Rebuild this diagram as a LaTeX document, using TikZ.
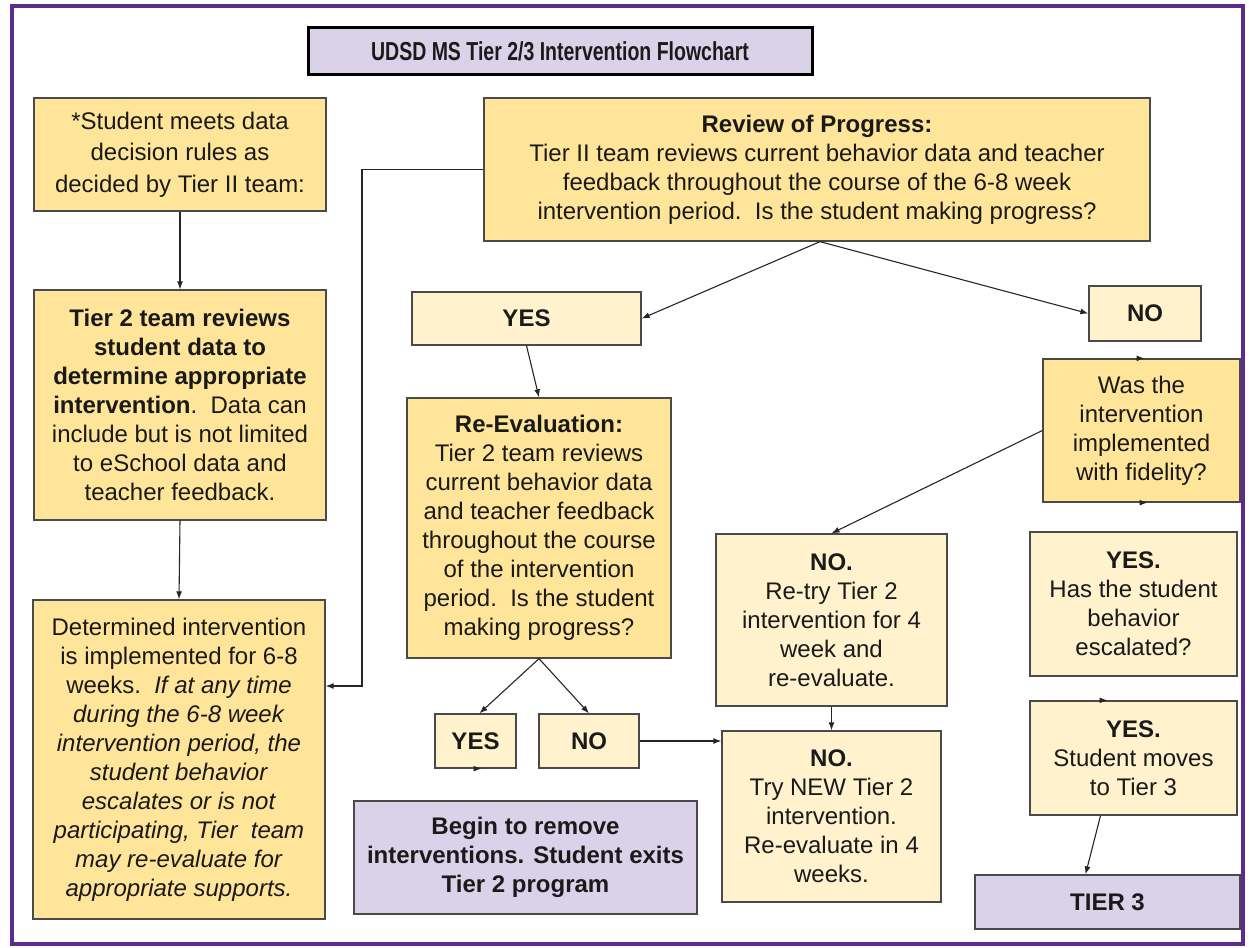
\documentclass[tikz,border=0pt]{standalone}
\usepackage{fontspec}
\setmainfont{Liberation Sans}
\newfontfamily\titlefont[FakeStretch=0.75]{Liberation Sans}
\usetikzlibrary{arrows.meta}
\definecolor{boxY}{HTML}{FFE599}
\definecolor{boxL}{HTML}{FFF2CC}
\definecolor{boxP}{HTML}{D9D2E9}
\definecolor{frameP}{HTML}{5B2C8E}
\definecolor{edgec}{HTML}{4A4A4A}
\definecolor{txt}{HTML}{1A1A1A}
\tikzset{
  basebox/.style={draw=edgec, line width=1.3pt, align=center, inner sep=0pt, text=txt,
    font=\fontsize{24}{29}\selectfont},
  ybox/.style={basebox, fill=boxY},
  lbox/.style={basebox, fill=boxL},
  pbox/.style={basebox, fill=boxP},
  sized/.style 2 args={minimum width=#1, minimum height=#2},
  arr/.style={draw=black!85, line width=1.1pt, -{Latex[length=8pt,width=6pt]}},
  conn/.style={draw=black!85, line width=1.1pt}
}
\begin{document}
\begin{tikzpicture}[x=1pt,y=-1pt]
\useasboundingbox (0,0) rectangle (1249,947);
\fill[white] (0,0) rectangle (1249,947);
\draw[frameP, line width=4pt] (12,6) rectangle (1243,944);

% title
\node[draw=black, line width=3pt, fill=boxP, sized={504pt}{47pt}, text=txt,
      font=\titlefont\bfseries\fontsize{26}{30}\selectfont] (title) at (560,51.5)
  {UDSD MS Tier 2/3 Intervention Flowchart};

% left column
\node[ybox, sized={292pt}{113pt}, font=\fontsize{24}{31.5}\selectfont] (A) at (180,154.5)
  {*Student meets data\\decision rules as\\decided by Tier II team:};
\node[ybox, sized={292pt}{230pt}] (B) at (180,405)
  {\textbf{Tier 2 team reviews}\\\textbf{student data to}\\\textbf{determine appropriate}\\\textbf{intervention}.\ \ Data can\\include but is not limited\\to eSchool data and\\teacher feedback.};
\node[ybox, sized={292pt}{319pt}] (C) at (179,759.5)
  {Determined intervention\\is implemented for 6-8\\weeks.\ \ \textit{If at any time}\\\textit{during the 6-8 week}\\\textit{intervention period, the}\\\textit{student behavior}\\\textit{escalates or is not}\\\textit{participating, Tier\ \ team}\\\textit{may re-evaluate for}\\\textit{appropriate supports.}};

% review
\node[ybox, sized={666pt}{143pt}] (review) at (817,169.5)
  {\textbf{Review of Progress:}\\Tier II team reviews current behavior data and teacher\\feedback throughout the course of the 6-8 week\\intervention period.\ \ Is the student making progress?};

\node[lbox, sized={229pt}{53pt}, font=\bfseries\fontsize{24}{29}\selectfont] (yes1) at (526.5,318.5) {YES};
\node[lbox, sized={112pt}{55pt}, font=\bfseries\fontsize{24}{29}\selectfont] (no1) at (1145,313.5) {NO};

\node[ybox, sized={264pt}{260pt}] (reeval) at (539,528)
  {\textbf{Re-Evaluation:}\\Tier 2 team reviews\\current behavior data\\and teacher feedback\\throughout the course\\of the intervention\\period.\ \ Is the student\\making progress?};

\node[lbox, sized={81pt}{54pt}, font=\bfseries\fontsize{24}{29}\selectfont] (yes2) at (475.5,741) {YES};
\node[lbox, sized={100pt}{54pt}, font=\bfseries\fontsize{24}{29}\selectfont] (no2) at (589,741) {NO};

\node[pbox, sized={343pt}{113pt}, font=\bfseries\fontsize{24}{29}\selectfont] (begin) at (525.5,857.5)
  {Begin to remove\\interventions. Student exits\\Tier 2 program};

% right side
\node[ybox, sized={197pt}{143pt}] (was) at (1141.5,430.5)
  {Was the\\intervention\\implemented\\with fidelity?};
\node[lbox, sized={231pt}{172pt}] (retry) at (831.5,620)
  {\textbf{NO.}\\Re-try Tier 2\\intervention for 4\\week and\\re-evaluate.};
\node[lbox, sized={219pt}{171pt}] (new) at (831.5,816.5)
  {\textbf{NO.}\\Try NEW Tier 2\\intervention.\\Re-evaluate in 4\\weeks.};
\node[lbox, sized={207pt}{144pt}] (esc) at (1133.5,604)
  {\textbf{YES.}\\Has the student\\behavior\\escalated?};
\node[lbox, sized={207pt}{114pt}] (moves) at (1133.5,758)
  {\textbf{YES.}\\Student moves\\to Tier 3};
\node[pbox, sized={265pt}{54pt}, font=\bfseries\fontsize{24}{29}\selectfont] (tier3) at (1107.5,902) {TIER 3};

% connectors
\draw[arr] (A.south) -- (B.north);
\draw[arr] (B.south) -- (C.north);
\coordinate (bend) at (362,686);
\draw[arr] (review.west) -| (bend) -- (bend -| C.east);
\draw[arr] ([xshift=3pt]review.south) -- (yes1.east);
\draw[arr] ([xshift=3pt]review.south) -- (no1.west);
\draw[arr] ([xshift=-6pt]was.north) -- ([xshift=3pt]was.north);
\draw[arr] (was.west) -- (retry.north);
\draw[arr] ([xshift=-2pt]was.south) -- ([xshift=6pt]was.south);
\draw[arr] (yes1.south) -- (reeval.north);
\draw[arr] (reeval.south) -- ([xshift=4pt]yes2.north);
\draw[arr] (reeval.south) -- (no2.north);
\draw[arr] ([xshift=-2pt]yes2.south) -- ([xshift=6pt]yes2.south);
\draw[arr] (no2.east) -- (no2.east -| new.west);
\draw[arr] (retry.south) -- (new.north);
\draw[arr] ([xshift=-34pt]moves.north) -- ([xshift=-26pt]moves.north);
\draw[arr] ([xshift=-33pt]moves.south) -- ([xshift=-22pt]tier3.north);
\end{tikzpicture}
\end{document}
